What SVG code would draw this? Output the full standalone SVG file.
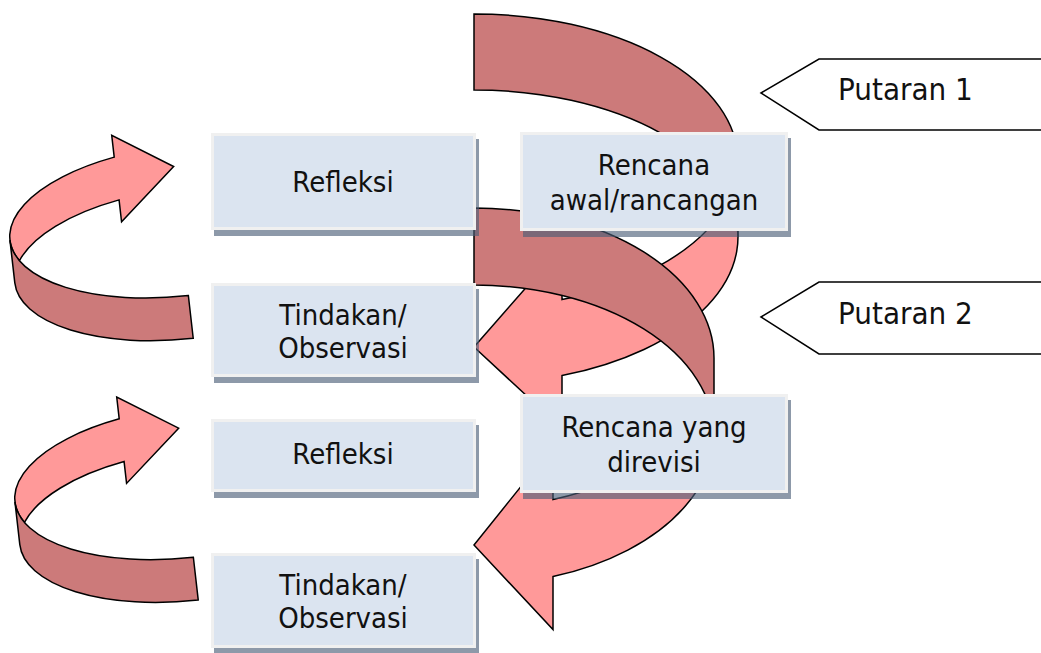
<svg xmlns="http://www.w3.org/2000/svg" width="1041" height="653" viewBox="0 0 1041 653">
<style>
.lt{fill:#ff9999;stroke:#000;stroke-width:1.5;stroke-linejoin:miter}
.dk{fill:#cc7a7a;stroke:#000;stroke-width:1.5;stroke-linejoin:miter}
.box{fill:#dbe4f0;stroke:#f0f0f0;stroke-width:3}
.sh{fill:#4b5e77;fill-opacity:.63}
.tx{font-family:"DejaVu Sans",Verdana,sans-serif;font-stretch:condensed;font-size:29px;fill:#111;text-anchor:middle}
.tg{font-family:"DejaVu Sans",Verdana,sans-serif;font-stretch:condensed;font-size:31px;fill:#111}
.tag{fill:#fff;stroke:#000;stroke-width:1.5}
</style>
<rect width="1041" height="653" fill="#fff"/>
<g id="connectors">
  <g id="cycle1-arrow">
    <path class="lt" d="M474,347 L562,246.6 L562,299.6 A264,147 0 0 0 729,199 A264,147 0 0 1 562,375.6 L562,428.6 Z"/>
    <path class="dk" d="M738,237 A264,147 0 0 0 474,90 L474,14 A264,147 0 0 1 738,161 Z"/>
  </g>
  <g id="cycle2-arrow">
    <path class="lt" d="M474,545 L553,446.6 L553,499.6 A240,150 0 0 0 706,396.5 A240,150 0 0 1 553,576.6 L553,629.6 Z"/>
    <path class="dk" d="M714,435 A240,150 0 0 0 474,285 L474,208 A240,150 0 0 1 714,358 Z"/>
  </g>
  <g id="small-arrow-1" transform="rotate(-6.5 190.8 317) translate(190.8 338.4) rotate(180)">
    <path class="lt" d="M0,172.9 L58,123.9 L58,145.9 A171,75.2 0 0 0 163.9,96.7 A171,75.2 0 0 1 58,188.9 L58,210.9 Z"/>
    <path class="dk" d="M171,118.2 A171,75.2 0 0 0 0,43 L0,0 A171,75.2 0 0 1 171,75.2 Z"/>
  </g>
  <g id="small-arrow-2" transform="translate(5 261.7) rotate(-6.5 190.8 317) translate(190.8 338.4) rotate(180)">
    <path class="lt" d="M0,172.9 L58,123.9 L58,145.9 A171,75.2 0 0 0 163.9,96.7 A171,75.2 0 0 1 58,188.9 L58,210.9 Z"/>
    <path class="dk" d="M171,118.2 A171,75.2 0 0 0 0,43 L0,0 A171,75.2 0 0 1 171,75.2 Z"/>
  </g>
</g>
<g id="refleksi-1">
  <rect class="sh" x="214" y="139" width="265" height="97"/>
  <rect class="box" x="212.5" y="134.5" width="262" height="94"/>
  <text class="tx" x="343" y="192">Refleksi</text>
</g>
<g id="tindakan-1">
  <rect class="sh" x="214" y="289" width="265" height="94"/>
  <rect class="box" x="212.5" y="284.5" width="262" height="91"/>
  <text class="tx" x="343" y="325">Tindakan/</text>
  <text class="tx" x="343" y="358">Observasi</text>
</g>
<g id="rencana-awal">
  <rect class="sh" x="523" y="138" width="268" height="99"/>
  <rect class="box" x="521.5" y="133.5" width="265" height="96"/>
  <text class="tx" x="654" y="175">Rencana</text>
  <text class="tx" x="654" y="210">awal/rancangan</text>
</g>
<g id="rencana-direvisi">
  <rect class="sh" x="523" y="400" width="268" height="99"/>
  <rect class="box" x="521.5" y="395.5" width="265" height="96"/>
  <text class="tx" x="654" y="437">Rencana yang</text>
  <text class="tx" x="654" y="472">direvisi</text>
</g>
<g id="refleksi-2">
  <rect class="sh" x="214" y="425" width="265" height="73"/>
  <rect class="box" x="212.5" y="420.5" width="262" height="70"/>
  <text class="tx" x="343" y="464">Refleksi</text>
</g>
<g id="tindakan-2">
  <rect class="sh" x="214" y="559" width="265" height="95"/>
  <rect class="box" x="212.5" y="554.5" width="262" height="92"/>
  <text class="tx" x="343" y="595">Tindakan/</text>
  <text class="tx" x="343" y="628">Observasi</text>
</g>
<g id="putaran-1">
  <polygon class="tag" points="761,93 819,59 1046,59 1046,130 819,130"/>
  <text class="tg" x="838" y="100">Putaran 1</text>
</g>
<g id="putaran-2">
  <polygon class="tag" points="761,317 819,282 1046,282 1046,354 819,354"/>
  <text class="tg" x="838" y="324">Putaran 2</text>
</g>
</svg>
